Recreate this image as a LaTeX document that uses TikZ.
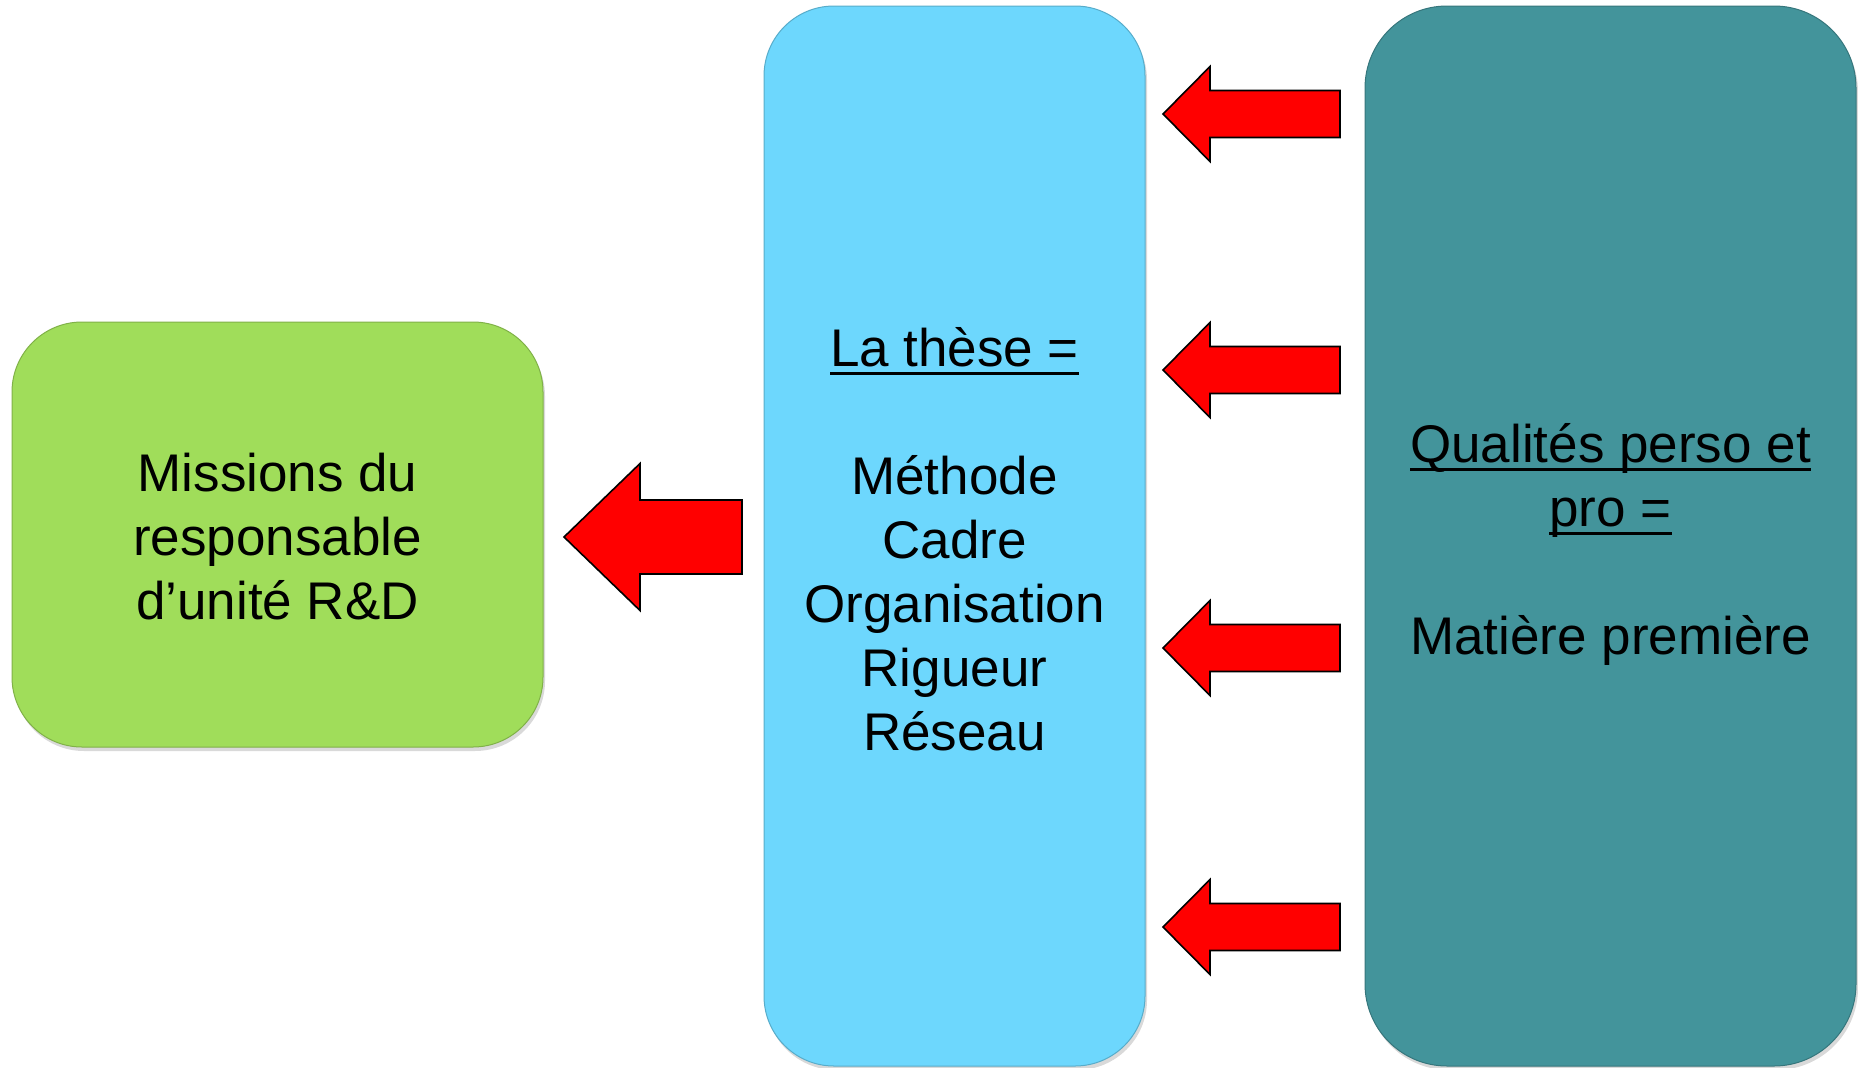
\documentclass[tikz,border=0pt]{standalone}
\usepackage{fontspec}
\setmainfont{Liberation Sans}
\newcommand\myul[1]{\setbox0\hbox{#1}\rlap{\box0}\setbox0\hbox{#1}\rule[-8.5pt]{\wd0}{2.6pt}}
\usetikzlibrary{shadows}
\definecolor{greenbox}{RGB}{160,221,90}
\definecolor{bluebox}{RGB}{109,215,253}
\definecolor{tealbox}{RGB}{67,148,155}
\begin{document}
\begin{tikzpicture}[x=1pt,y=-1pt,
  box/.style={inner sep=0pt,
    drop shadow={opacity=0.3, shadow xshift=2pt, shadow yshift=-4pt}},
  txt/.style={align=center, inner sep=0pt, font=\fontsize{53}{64}\selectfont},
  blockarrow/.style={fill=red, draw=black, line width=1.6pt, line join=miter},
  pics/smallarrow/.style={code={
    \draw[blockarrow] (0,0) -- (47,-47.5) -- (47,-23.5) -- (177,-23.5) -- (177,23.5) -- (47,23.5) -- (47,47.5) -- cycle;}},
  pics/bigarrow/.style={code={
    \draw[blockarrow] (0,0) -- (76,-73.5) -- (76,-37) -- (178,-37) -- (178,37) -- (76,37) -- (76,73.5) -- cycle;}}
]
\useasboundingbox (0,0) rectangle (1858,1068);
\node[box, rounded corners=70pt, fill=greenbox, draw=greenbox!80!black, line width=1pt,
      minimum width=531pt, minimum height=425pt] (missions) at (277.5,534.5) {};
\node[txt] (missionsT) at ([yshift=-2pt]missions.center)
      {Missions du\\responsable\\d’unité R\&D};
\node[box, rounded corners=70pt, fill=bluebox, draw=bluebox!80!black, line width=1pt,
      minimum width=381pt, minimum height=1060pt] (these) at (954.5,536) {};
\node[txt] (theseT) at ([yshift=-3pt]these.center)
      {\myul{La thèse =}\\[64pt]Méthode\\Cadre\\Organisation\\Rigueur\\Réseau};
\node[box, rounded corners=82pt, fill=tealbox, draw=tealbox!80!black, line width=1pt,
      minimum width=491pt, minimum height=1060pt] (qualites) at (1610.5,536) {};
\node[txt] (qualitesT) at ([yshift=-8pt]qualites.center)
      {\myul{Qualités perso et}\\\myul{pro =}\\[64pt]Matière première};
\path (564,537) pic {bigarrow};
\path (1163,114) pic {smallarrow};
\path (1163,370) pic {smallarrow};
\path (1163,648) pic {smallarrow};
\path (1163,927) pic {smallarrow};
\end{tikzpicture}
\end{document}
